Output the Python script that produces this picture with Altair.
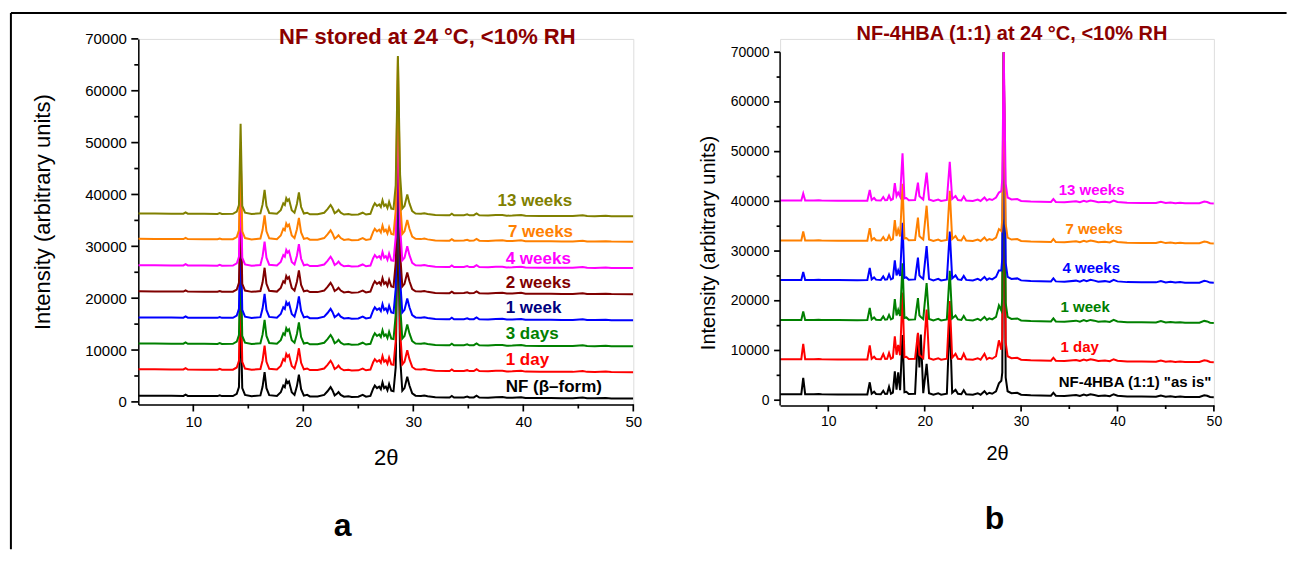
import altair as alt
import pandas as pd

FONT = "Liberation Sans"

# ---------------- Panel a : NF stored at 24 C ----------------
a_names = ["NF (β–form)", "1 day", "3 days", "1 week", "2 weeks", "4 weeks", "7 weeks", "13 weeks"]
a_colors = ["#000000", "#FF0000", "#008000", "#0000FF", "#800000", "#FF00FF", "#FF8000", "#808000"]
a_label_colors = ["#000000", "#FF0000", "#008000", "#000080", "#800000", "#FF00FF", "#FF8000", "#808000"]
a_offsets = [650, 5740, 10710, 15740, 20770, 25800, 30890, 35780]
a_peak143 = [17000, 17800, 17500, 17600, 17300, 17200, 17900, 17870]
a_peak286 = [38000, 56300, 45000, 40300, 37000, 34000, 35500, 30900]

a_x = [5.0, 6.5, 8.0, 9.1, 9.3, 9.5, 11.0, 12.2, 12.4, 12.6, 13.6, 13.95, 14.15, 14.3, 14.45,
       14.7, 15.3, 16.1, 16.3, 16.48, 16.65, 16.9, 17.6, 17.95, 18.18, 18.32, 18.45, 18.57,
       18.7, 18.95, 19.2, 19.42, 19.6, 19.8, 20.05, 20.35, 20.6, 21.3, 21.9, 22.2, 22.48,
       22.65, 22.85, 23.05, 23.2, 23.4, 23.7, 24.1, 24.4, 25.0, 25.4, 25.7, 26.1, 26.35,
       26.5, 26.7, 26.9, 27.05, 27.2, 27.35, 27.5, 27.65, 27.8, 28.0, 28.2, 28.4, 28.6, 28.8,
       29.0, 29.2, 29.45, 29.65, 29.9, 30.2, 30.7, 31.0, 31.3, 32.0, 33.0, 33.3, 33.5, 33.7,
       34.6, 34.9, 35.1, 35.5, 35.75, 36.0, 36.8, 37.5, 38.1, 38.5, 39.0, 39.8, 40.2, 41.5,
       42.5, 43.5, 44.5, 45.4, 45.8, 46.5, 47.5, 48.0, 50.0]
a_profile = [550, 540, 520, 510, 750, 505, 480, 470, 620, 465, 480, 900, 2200, 17500, 2000,
             700, 450, 600, 2300, 5100, 2000, 650, 500, 1200, 2500, 2200, 3500, 3000,
             3300, 1200, 700, 2400, 4600, 1800, 550, 700, 400, 400, 700, 1400, 2200,
             1600, 600, 900, 1250, 700, 350, 450, 300, 350, 700, 350, 500, 1900,
             2500, 2000, 2300, 1800, 3100, 2000, 2300, 1600, 2800, 1500, 1400, 6000, 32000, 8000,
             1500, 2000, 4200, 2500, 1000, 550, 500, 600, 450, 250, 200, 200, 500, 200,
             220, 380, 200, 220, 550, 200, 150, 250, 280, 130, 150, 260, 100, 80,
             80, 60, 50, 200, 50, 30, 100, 20, 0]
a_label_x = [38.4, 38.4, 38.4, 38.4, 38.4, 38.4, 38.6, 37.66]
a_label_y = [1930, 7200, 12210, 17130, 21930, 26680, 31820, 37740]

# ---------------- Panel b : NF-4HBA (1:1) ----------------
b_names = ['NF-4HBA (1:1) "as is"', "1 day", "1 week", "4 weeks", "7 weeks", "13 weeks"]
b_colors = ["#000000", "#FF0000", "#008000", "#0000FF", "#FF8000", "#FF00FF"]
b_offsets = [600, 7640, 15550, 23600, 31520, 39570]
b_peak282_top = [70000, 70000, 70000, 70000, 70000, 70000]

b_x = [5.0, 6.8, 7.2, 7.4, 7.6, 8.5, 9.0, 9.3, 11.0, 13.0, 14.05, 14.3, 14.5, 14.75, 14.95,
       15.45, 15.7, 15.9, 16.1, 16.3, 16.5, 16.7, 16.9, 17.08, 17.25, 17.45, 17.7, 17.9, 18.1,
       18.35, 19.0, 19.3, 19.45, 19.6, 19.85, 20.2, 20.45, 20.9, 21.4, 21.7, 22.3, 22.6, 22.85,
       23.2, 23.45, 23.8, 24.05, 24.3, 25.0, 25.5, 25.8, 26.2, 26.45, 26.7, 27.0, 27.4, 27.7,
       27.95, 28.05, 28.2, 28.4, 28.6, 29.0, 29.6, 30.0, 31.0, 32.0, 33.1, 33.35, 33.6, 34.5,
       35.7, 36.1, 36.5, 36.8, 37.2, 37.6, 38.0, 38.7, 39.2, 39.6, 40.0, 41.0, 42.5, 44.0,
       44.5, 45.0, 45.5, 46.0, 46.5, 47.0, 48.5, 49.0, 49.3, 49.6, 50.0]
b_profile = [600, 590, 600, 2000, 600, 580, 650, 580, 560, 550, 560, 2700, 700, 1100, 650,
             600, 1300, 650, 700, 1600, 700, 900, 4100, 1500, 2200, 1400, 10100, 1000, 1100,
             650, 700, 4200, 1500, 1200, 800, 6200, 800, 500, 800, 500, 700, 8400, 900,
             1500, 700, 600, 1400, 600, 500, 800, 500, 1200, 600, 900, 700, 1200, 2200,
             2500, 5000, 60000, 4000, 1200, 800, 900, 500, 400, 350, 300, 900, 300, 250,
             450, 250, 550, 350, 600, 450, 250, 350, 200, 600, 300, 150, 120, 100,
             350, 80, 200, 60, 150, 40, 40, 400, 300, 50, 0]
b_peaks = [
    {7.4: 3900, 14.3: 3000, 14.75: 1100, 15.7: 1300, 16.3: 2100, 16.9: 5200, 17.25: 5000,
     17.7: 12500, 19.3: 12700, 19.45: 6000, 19.6: 12600, 20.2: 6700, 22.6: 16000,
     27.7: 2800, 27.95: 3300},
    {7.4: 3700, 14.3: 3400, 15.7: 1650, 16.3: 1870, 16.9: 5200, 17.25: 3500, 17.7: 14000,
     19.3: 5900, 20.2: 10600, 22.6: 12300, 23.2: 1700, 24.05: 1700, 26.2: 1700, 27.7: 4400},
    {7.4: 2300, 14.3: 3000, 16.9: 4760, 17.25: 2600, 17.7: 12000, 19.3: 5000, 20.2: 8000,
     22.6: 10500, 27.7: 3500},
    {7.4: 2200, 14.3: 3000, 15.7: 1300, 16.3: 1700, 16.9: 4550, 17.25: 2500, 17.7: 12100,
     19.3: 5100, 20.2: 7400, 22.6: 10300, 27.7: 2500},
    {7.4: 2400, 14.3: 3100, 16.9: 4700, 17.25: 2800, 17.7: 12000, 19.3: 5200, 20.2: 7600,
     22.6: 10600, 27.7: 2900},
    {},
]
b_label_x = [33.9, 34.1, 34.1, 34.3, 34.6, 33.9]
b_label_y = [2610, 9660, 17700, 25490, 33330, 41180]

# tick values (labels only on the major ones)
x_major = [10, 20, 30, 40, 50]
x_minor = [15, 25, 35, 45]
y_major = [0, 10000, 20000, 30000, 40000, 50000, 60000, 70000]
y_minor = [5000, 15000, 25000, 35000, 45000, 55000, 65000]

assert len(a_x) == len(a_profile)
assert len(b_x) == len(b_profile)

# ---------------- layout constants ----------------
WA, HA = 495, 365.6
WB, HB = 433.8, 366.6
LW = 2.0
TW = 1.7
one = pd.DataFrame({"k": [0]})


def axis_kw(fs, tsize, title, tx, ty, tfs, angle=None):
    kw = dict(
        grid=False,
        ticks=True, tickSize=tsize, tickOpacity=0,
        domainColor="black", domainWidth=1.5,
        labelColor="black", labelFont=FONT, labelFontSize=fs,
        labelOverlap=False, labelFlush=False, labelBound=False,
        title=title, titleFont=FONT, titleFontSize=tfs, titleFontWeight="normal",
        titleColor="black", titleX=tx, titleY=ty, titleBaseline="alphabetic",
        titleAlign="center", format="d",
    )
    if angle is not None:
        kw["titleAngle"] = angle
    return kw


def tick_layers(xenc, yenc, H, tmaj, tmin, xname, yname):
    out = []
    for vals, size in ((x_major, tmaj), (x_minor, tmin)):
        out.append(
            alt.Chart(pd.DataFrame({xname: vals})).mark_rule(color="black", strokeWidth=TW)
            .encode(x=xenc, y=alt.value(H), y2=alt.value(H + size))
        )
    for vals, size in ((y_major, tmaj), (y_minor, tmin)):
        out.append(
            alt.Chart(pd.DataFrame({yname: vals})).mark_rule(color="black", strokeWidth=TW)
            .encode(y=yenc, x=alt.value(-size), x2=alt.value(0))
        )
    return out


# axes panel a
ax_a_x = axis_kw(15, 7, "2θ", WA / 2, 60, 22)
ax_a_x.update(values=x_major, labelPadding=3)
ax_a_y = axis_kw(15, 7, "Intensity (arbitrary units)", -88.8, 172.8, 22, 270)
ax_a_y.update(values=y_major, labelPadding=5)

xa = alt.X("x:Q", scale=alt.Scale(domain=[5, 50], nice=False, zero=False), axis=alt.Axis(**ax_a_x))
ya = alt.Y("y:Q", scale=alt.Scale(domain=[-500, 70000], nice=False, zero=False), axis=alt.Axis(**ax_a_y))

layers_a = []
for s, name in enumerate(a_names):
    rows = []
    for xv, pv in zip(a_x, a_profile):
        if xv == 14.3:
            v = a_peak143[s]
        elif xv == 28.6:
            v = a_peak286[s]
        else:
            v = pv
        rows.append({"x": xv, "y": a_offsets[s] + v})
    layers_a.append(
        alt.Chart(pd.DataFrame(rows)).mark_line(color=a_colors[s], strokeWidth=LW, clip=True)
        .encode(x=xa, y=ya)
    )

layers_a += tick_layers(xa, ya, HA, 7, 4, "x", "y")

lab_a = pd.DataFrame({"x": a_label_x, "y": a_label_y, "t": a_names, "c": a_label_colors})
layers_a.append(
    alt.Chart(lab_a).mark_text(align="left", baseline="alphabetic", fontSize=17,
                               fontWeight="bold", font=FONT)
    .encode(x=xa, y=ya, text="t:N", color=alt.Color("c:N", scale=None))
)
layers_a.append(
    alt.Chart(one).mark_text(text="NF stored at 24 °C, <10% RH", fontSize=22, fontWeight="bold",
                             color="#8B0000", align="center", baseline="alphabetic", font=FONT)
    .encode(x=alt.value(289), y=alt.value(5))
)
layers_a.append(
    alt.Chart(one).mark_text(text="a", fontSize=32, fontWeight="bold", color="black",
                             align="center", baseline="alphabetic", font=FONT)
    .encode(x=alt.value(204.3), y=alt.value(497.3))
)
# image frame
layers_a.append(
    alt.Chart(one).mark_rule(color="black", strokeWidth=2)
    .encode(x=alt.value(-127.4), y=alt.value(-25.8), y2=alt.value(510.3))
)
layers_a.append(
    alt.Chart(one).mark_rule(color="black", strokeWidth=2)
    .encode(x=alt.value(-127.4), x2=alt.value(1148.3), y=alt.value(-25.8))
)
chart_a = alt.layer(*layers_a).properties(width=WA, height=HA)

# axes panel b
ax_b_x = axis_kw(14, 6, "2θ", WB / 2, 54, 20)
ax_b_x.update(values=x_major, labelPadding=3)
ax_b_y = axis_kw(14, 6, "Intensity (arbitrary units)", -65.5, 203.6, 20, 270)
ax_b_y.update(values=y_major, labelPadding=5, domain=False)

xb = alt.X("x:Q", scale=alt.Scale(domain=[5, 50], nice=False, zero=False), axis=alt.Axis(**ax_b_x))
yb = alt.Y("y:Q", scale=alt.Scale(domain=[-1066, 72675], nice=False, zero=False), axis=alt.Axis(**ax_b_y))

layers_b = []
for s, name in enumerate(b_names):
    rows = []
    for xv, pv in zip(b_x, b_profile):
        if xv == 28.2:
            yv = b_peak282_top[s]
        else:
            yv = b_offsets[s] + b_peaks[s].get(xv, pv)
        rows.append({"x": xv, "y": yv})
    layers_b.append(
        alt.Chart(pd.DataFrame(rows)).mark_line(color=b_colors[s], strokeWidth=LW, clip=True)
        .encode(x=xb, y=yb)
    )

layers_b += tick_layers(xb, yb, HB, 6, 3.5, "x", "y")

lab_b = pd.DataFrame({"x": b_label_x, "y": b_label_y, "t": b_names, "c": b_colors})
layers_b.append(
    alt.Chart(lab_b).mark_text(align="left", baseline="alphabetic", fontSize=15,
                               fontWeight="bold", font=FONT)
    .encode(x=xb, y=yb, text="t:N", color=alt.Color("c:N", scale=None))
)
layers_b.append(
    alt.Chart(one).mark_text(text="NF-4HBA (1:1) at 24 °C, <10% RH", fontSize=20, fontWeight="bold",
                             color="#8B0000", align="center", baseline="alphabetic", font=FONT)
    .encode(x=alt.value(231.9), y=alt.value(1.6))
)
layers_b.append(
    alt.Chart(one).mark_text(text="b", fontSize=32, fontWeight="bold", color="black",
                             align="center", baseline="alphabetic", font=FONT)
    .encode(x=alt.value(214.4), y=alt.value(490.3))
)
# y axis line of panel b (stops at 70000)
layers_b.append(
    alt.Chart(one).mark_rule(color="black", strokeWidth=1.5)
    .encode(x=alt.value(0), y=alt.value(13.3), y2=alt.value(HB))
)
chart_b = alt.layer(*layers_b).properties(width=WB, height=HB)

chart = (
    alt.hconcat(chart_a, chart_b, spacing=146.8, bounds="flush")
    .properties(padding={"left": 1.3, "top": 2.9, "right": 0, "bottom": 0}, background="white")
    .configure_view(stroke=None)
    .configure(font=FONT)
)

chart.save("out.html", embed_options={"renderer": "svg", "actions": False})
